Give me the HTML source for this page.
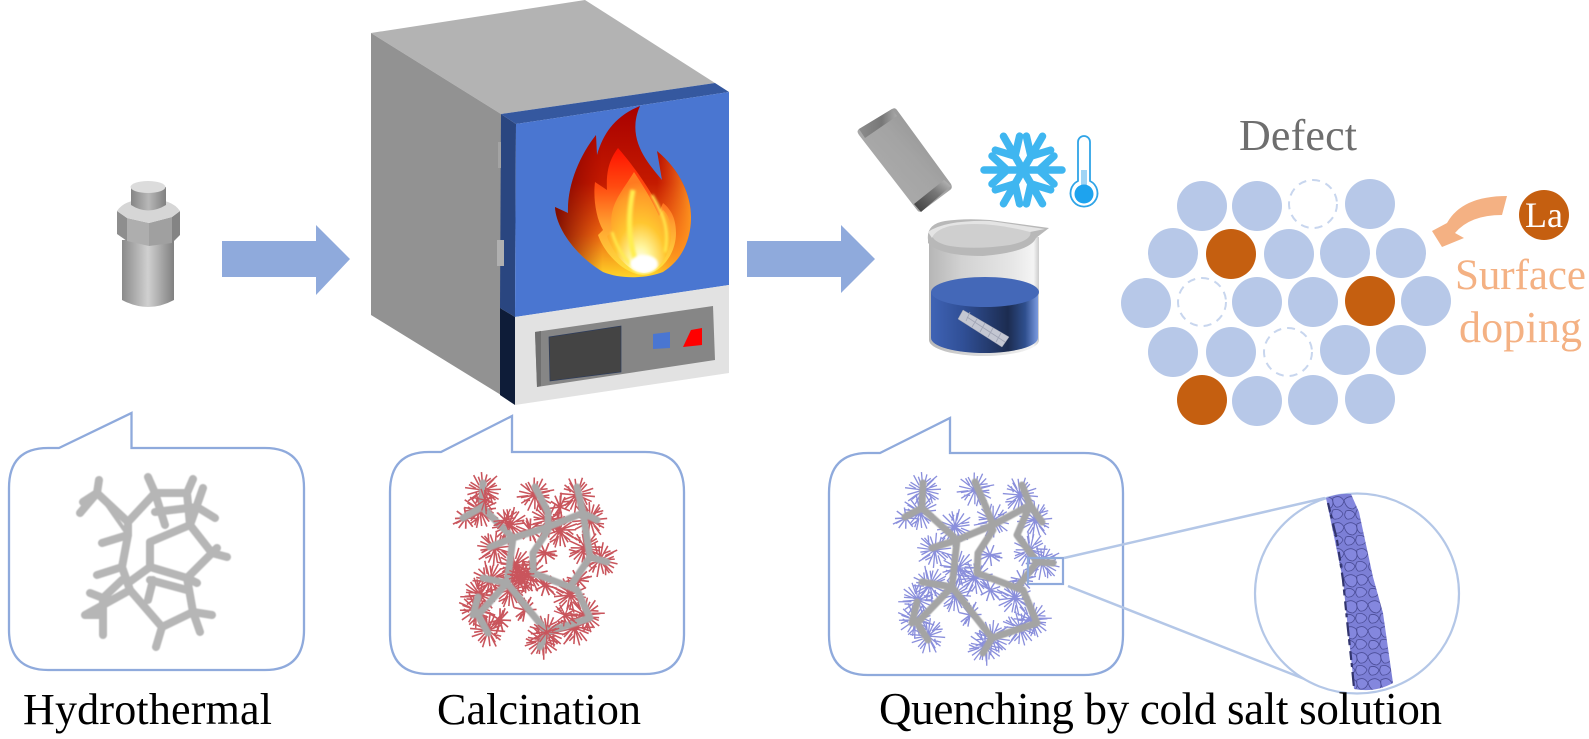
<!DOCTYPE html>
<html><head><meta charset="utf-8"><title>Process diagram</title>
<style>html,body{margin:0;padding:0;background:#fff}svg{display:block}text{font-family:"Liberation Serif",serif}</style></head>
<body>
<svg xmlns="http://www.w3.org/2000/svg" width="1589" height="739" viewBox="0 0 1589 739">
<defs>
<filter id="b" x="-10%" y="-10%" width="120%" height="120%"><feGaussianBlur stdDeviation=".6"/></filter>
<filter id="b2" x="-10%" y="-10%" width="120%" height="120%"><feGaussianBlur stdDeviation=".35"/></filter>
<filter id="b3" x="-20%" y="-20%" width="140%" height="140%"><feGaussianBlur stdDeviation="1.2"/></filter>
<linearGradient id="cyl" x1="0" x2="1" y1="0" y2="0"><stop offset="0" stop-color="#8a8a8a"/><stop offset=".5" stop-color="#d0d0d0"/><stop offset="1" stop-color="#808080"/></linearGradient>
<linearGradient id="neck" x1="0" x2="1" y1="0" y2="0"><stop offset="0" stop-color="#858585"/><stop offset=".5" stop-color="#b8b8b8"/><stop offset="1" stop-color="#808080"/></linearGradient>
<linearGradient id="fl1" x1="0" x2="0" y1="0" y2="1"><stop offset="0" stop-color="#a80000"/><stop offset=".45" stop-color="#c41a00"/><stop offset=".75" stop-color="#ee6a10"/><stop offset="1" stop-color="#ffd428"/></linearGradient>
<linearGradient id="fl0" x1="0" x2="1" y1="0" y2="0"><stop offset="0" stop-color="#6a0000" stop-opacity=".85"/><stop offset=".35" stop-color="#8b0000" stop-opacity="0"/><stop offset=".75" stop-color="#ff7020" stop-opacity="0"/><stop offset="1" stop-color="#ff9a20" stop-opacity=".9"/></linearGradient>
<linearGradient id="fl2" x1="0" x2="0" y1="0" y2="1"><stop offset="0" stop-color="#ff1000"/><stop offset=".3" stop-color="#ff4a10"/><stop offset=".6" stop-color="#ffa030"/><stop offset="1" stop-color="#ffe840"/></linearGradient>
<radialGradient id="fl3" cx=".52" cy=".9" r=".8"><stop offset="0" stop-color="#fff"/><stop offset=".2" stop-color="#fff6a0"/><stop offset=".5" stop-color="#ffc630"/><stop offset=".85" stop-color="#ff9a28"/><stop offset="1" stop-color="#ff7a20"/></radialGradient>
<linearGradient id="blk" x1="0" x2="1" y1="1" y2="0"><stop offset="0" stop-color="#b0b0b0"/><stop offset=".55" stop-color="#a4a4a4"/><stop offset="1" stop-color="#8a8a8a"/></linearGradient>
<linearGradient id="blkt" x1="0" x2="1" y1="0" y2="0"><stop offset="0" stop-color="#8c8c8c"/><stop offset=".6" stop-color="#777"/><stop offset="1" stop-color="#aaa"/></linearGradient>
<linearGradient id="blke" x1="0" x2="1" y1="1" y2="0"><stop offset="0" stop-color="#3c3c3c"/><stop offset=".6" stop-color="#777"/><stop offset="1" stop-color="#c0c0c0"/></linearGradient>
<linearGradient id="glass" x1="0" x2="1" y1="0" y2="0"><stop offset="0" stop-color="#b6b6b6"/><stop offset=".3" stop-color="#d2d2d2"/><stop offset=".75" stop-color="#e6e6e6"/><stop offset=".95" stop-color="#f4f4f4"/><stop offset="1" stop-color="#ccc"/></linearGradient>
<linearGradient id="liq" x1="0" x2="1" y1="0" y2="0"><stop offset="0" stop-color="#3f63b5"/><stop offset=".3" stop-color="#304f96"/><stop offset=".72" stop-color="#1c2c50"/><stop offset=".88" stop-color="#2f4f8e"/><stop offset="1" stop-color="#7a9ae0"/></linearGradient>
<pattern id="cells" width="24" height="26" patternUnits="userSpaceOnUse"><rect width="24" height="26" fill="#7b7fd6"/><path d="M0 6Q6 0 12 5Q15 12 9 15Q2 15 0 6ZM13 4Q20 0 24 7Q22 14 16 13Q12 10 13 4ZM2 17Q8 15 11 20Q9 26 3 25Q-1 22 2 17ZM13 16Q20 14 23 20Q20 26 14 25Q10 21 13 16Z" fill="#8487de" stroke="#4a4c96" stroke-width=".8"/></pattern>
<g id="sp" transform="scale(.78)"><path d="M0 0L18-6M0 0L-16-10M0 0L5-20M0 0L-6-17M0 0L20 5M0 0L-20 6M0 0L9 16M0 0L-10 18M0 0L14-14M0 0L-14 12M0 0L2 22M0 0L-2-23M0 0L23-1M0 0L-23-3M0 0L16 13M5-7L18-18M-7 5L-19 14M7 4L20 12M-5-6L-12-19M-4 7L-5 18M8-3L16-9M2-9L10-15M-9-2L-18-7M-2 9L-9 13M9 6L12 17"/></g>
<g id="sp2" transform="scale(.85)"><path d="M0 0L12-5M0 0L-11-7M0 0L4-14M0 0L-4-12M0 0L13 4M0 0L-13 4M0 0L6 11M0 0L-7 12M0 0L9-10M0 0L-9 8M4-4L12-12M-5 3L-12 9"/></g>
</defs>

<!-- Vessel -->
<path d="M122 240V300Q148 314 174 300V240Z" fill="url(#cyl)"/>
<path d="M117 211L127 218V241L117 234Z" fill="#8e8e8e"/>
<path d="M127 218L149 223V246L127 241Z" fill="#aeaeae"/>
<path d="M149 223L172 217V243L149 246Z" fill="#a0a0a0"/>
<path d="M172 217L180 211V235L172 243Z" fill="#848484"/>
<path d="M117 211Q125 199 148 199Q172 199 180 211L172 217L149 223L127 218Z" fill="#d6d6d6"/>
<path d="M131 187V205Q148 216 166 205V187Z" fill="url(#neck)"/>
<ellipse cx="148" cy="187" rx="17.500" ry="6" fill="#dcdcdc"/>

<!-- Arrows -->
<path d="M222 241H316V225L350 259L316 295V277H222Z" fill="#8faadc"/>
<path d="M747 241H841V225L875 259L841 293V277H747Z" fill="#8faadc"/>

<!-- Furnace -->
<path d="M371 33L585 0L715 83L501 114Z" fill="#b3b3b3"/>
<path d="M371 33L501 114V395L371 315Z" fill="#929292"/>
<path d="M501 114L715 83L729 92L516 124Z" fill="#35589f"/>
<path d="M501 114L516 124L515 317L500 308Z" fill="#2a4680"/>
<path d="M516 124L729 92V285L515 317Z" fill="#4a76d1"/>
<path d="M500 308L515 317V405L500 395Z" fill="#0e1c38"/>
<path d="M515 317L729 285V373L515 405Z" fill="#e2e2e2"/>
<path d="M535 332L713 306L715 360L537 387Z" fill="#868686"/>
<path d="M535 332L541 331V386L537 387Z" fill="#6f6f6f"/>
<path d="M549 337L621 326V372L550 381Z" fill="#444" stroke="#2d3c5c" stroke-width=".7"/>
<path d="M653 334L670 332V348L653 349Z" fill="#4a76d1"/>
<path d="M691 330L702 328V345L683 347Z" fill="#f00"/>
<rect x="497" y="240" width="7" height="26" fill="#b0b0b0"/>
<rect x="498" y="142" width="3" height="26" fill="#a3a3a3"/>
<!-- Flame -->
<path d="M640 106C618 115 604 130 597 155L596 135C580 155 567 185 568 213L555 207C556 228 575 255 603 272C620 279 645 279 663 272C685 258 691 235 691 217C691 195 680 170 657 151L662 180C650 165 625 140 640 106Z" fill="url(#fl1)"/>
<path d="M640 106C618 115 604 130 597 155L596 135C580 155 567 185 568 213L555 207C556 228 575 255 603 272C620 279 645 279 663 272C685 258 691 235 691 217C691 195 680 170 657 151L662 180C650 165 625 140 640 106Z" fill="url(#fl0)"/>
<path d="M618 148C609 160 606 172 607 190L595 182C593 198 596 218 603 230L598 235C605 255 625 274 643 275C660 274 676 255 676 233C676 220 672 210 663 203L660 210C652 192 633 165 618 148Z" fill="url(#fl2)"/>
<path d="M634 172C620 195 608 205 612 232L607 236C612 252 628 272 644 273C660 272 672 252 671 233C671 222 668 214 663 210L659 216C652 200 642 184 634 172Z" fill="url(#fl3)"/>
<g filter="url(#b3)" fill="none" stroke="#ffee50">
<path d="M633 190C628 215 628 240 636 262" stroke-width="5"/>
<path d="M612 232C618 252 630 266 640 272" stroke-width="2.500"/>
<path d="M652 195C662 212 670 228 665 252" stroke-width="2.500"/>
</g>
<ellipse cx="644" cy="264" rx="14" ry="9" fill="#fff" filter="url(#b3)"/>

<!-- Block -->
<path d="M892 109Q895 107 897 110L951 184Q953 188 950 190L922 211Q919 213 917 210L859 135Q856 131 859 129Z" fill="url(#blk)"/>
<path d="M859 129L892 109L897 116L865 138Z" fill="url(#blkt)"/>
<path d="M951 186L921 212L914 204L944 180Z" fill="url(#blke)"/>

<!-- Snowflake -->
<g stroke="#3fb6f0" stroke-width="7.500" stroke-linecap="round" fill="none" transform="translate(1023 170)">
<g id="arm"><path d="M-39 0H39M-16 0L-31-14M-16 0L-31 14M16 0L31-14M16 0L31 14"/></g>
<use href="#arm" transform="rotate(60)"/>
<use href="#arm" transform="rotate(120)"/>
</g>

<!-- Thermometer -->
<path d="M1078 142a6 6 0 0 1 12 0V181a13.500 13.500 0 1 1-12 0Z" fill="#fff" stroke="#2fa4e7" stroke-width="1.800"/>
<rect x="1081" y="170" width="6" height="18" fill="#9fd4f5"/>
<circle cx="1084" cy="194" r="9.500" fill="#1ea3ee"/>
<path d="M1081 188h6v6h-6z" fill="#1ea3ee"/>

<!-- Beaker -->
<path d="M929 237H1039V340A55 16 0 0 1 929 340Z" fill="url(#glass)"/>
<path d="M931 292H1038V338A53.500 15 0 0 1 931 338Z" fill="url(#liq)"/>
<ellipse cx="985" cy="292" rx="54" ry="15" fill="#4468b8"/>
<path d="M963 310L1009 337L1002 347L958 319Z" fill="#c4c7d2" stroke="#9a9eae" stroke-width=".5"/>
<path d="M967 317L1005 342M970 312L966 321M977 319L972 327M985 323L980 332M993 328L988 337M1001 333L996 342" stroke="#a0a4b4" stroke-width=".8" fill="none"/>
<path d="M928 240Q926 224 945 221Q965 218 990 220L1049 228L1036 238Q1030 252 983 256Q940 256 928 243Z" fill="#b8b8b8"/>
<path d="M932 236Q935 226 960 224Q995 221 1030 230Q1034 240 1010 245Q975 250 950 246Q935 243 932 236Z" fill="#cfcfcf"/>
<path d="M928 232Q945 220 990 221L1045 229L1030 232Q985 220 950 226Q935 230 932 238Z" fill="#e4e4e4"/>

<!-- Bubbles -->
<g fill="#fff" stroke="#8faadc" stroke-width="2.300">
<path d="M59 448L131.500 413V448H265Q304 448 304 488V630Q304 670 265 670H48Q9 670 9 630V488Q9 448 48 448Z"/>
<path d="M441 452L512 416V452H645Q684 452 684 492V634Q684 674 645 674H429Q390 674 390 634V492Q390 452 429 452Z"/>
<path d="M880 453L950 418V453H1084Q1123 453 1123 493V635Q1123 675 1084 675H868Q829 675 829 635V493Q829 453 868 453Z"/>
</g>

<!-- Skeleton 1 -->
<g fill="none" stroke="#b6b6b6" stroke-width="8" stroke-linecap="round" stroke-linejoin="round" filter="url(#b)">
<path d="M99 480L97 493L128 522L128 535L122 567L130 590L162 627L193 612L187 578L150 567L150 542L190 525L212 553L187 578"/>
<path d="M97 493L83 502M97 493L80 513M128 522L155 493L148 477M155 493L187 493L193 479M187 493L190 525L203 488M197 507L215 518M155 493L165 525M155 512L197 507M212 553L227 557M212 553L217 548M193 612L212 615M193 612L200 632M162 627L156 647M128 535L102 543M122 567L97 575M128 583L150 567M150 580L187 590M153 580L148 600M130 590L85 615L103 615L103 635M122 580L103 598L90 593M103 598L103 615M187 578L197 583"/>
<path d="M100 495L128 535" stroke-width="4"/>
</g>

<!-- Structure 2 -->
<g fill="none" stroke="#c9545c" stroke-width="2" filter="url(#b2)">
<use href="#sp" transform="translate(483 490)"/><use href="#sp" transform="translate(480 510) rotate(70)"/><use href="#sp2" transform="translate(466 518) rotate(200)"/>
<use href="#sp" transform="translate(510 525) rotate(140)"/><use href="#sp" transform="translate(535 495) rotate(30)"/><use href="#sp" transform="translate(548 520) rotate(210)"/>
<use href="#sp" transform="translate(577 495) rotate(100)"/><use href="#sp" transform="translate(590 520) rotate(270)"/><use href="#sp" transform="translate(600 560) rotate(15)"/>
<use href="#sp" transform="translate(585 548) rotate(120)"/><use href="#sp2" transform="translate(578 580) rotate(30)"/><use href="#sp" transform="translate(495 548) rotate(190)"/>
<use href="#sp" transform="translate(515 565) rotate(45)"/><use href="#sp" transform="translate(530 575) rotate(160)"/><use href="#sp2" transform="translate(545 585) rotate(90)"/>
<use href="#sp" transform="translate(490 580) rotate(300)"/><use href="#sp" transform="translate(510 590) rotate(80)"/><use href="#sp2" transform="translate(545 553) rotate(230)"/>
<use href="#sp" transform="translate(570 595) rotate(250)"/><use href="#sp" transform="translate(585 615) rotate(40)"/><use href="#sp" transform="translate(575 628) rotate(170)"/>
<use href="#sp" transform="translate(547 632) rotate(10)"/><use href="#sp" transform="translate(542 640) rotate(130)"/><use href="#sp" transform="translate(476 610) rotate(60)"/>
<use href="#sp" transform="translate(488 630) rotate(280)"/><use href="#sp" transform="translate(480 595) rotate(220)"/><use href="#sp2" transform="translate(525 610) rotate(340)"/>
<use href="#sp2" transform="translate(530 530) rotate(110)"/><use href="#sp2" transform="translate(560 507) rotate(320)"/><use href="#sp2" transform="translate(500 620) rotate(150)"/>
<use href="#sp" transform="translate(520 578) rotate(15)"/><use href="#sp" transform="translate(560 530) rotate(75)"/>
</g>
<g fill="none" stroke="#a8a8a8" stroke-width="7" stroke-linecap="round" stroke-linejoin="round" filter="url(#b)">
<path d="M483 483L482 507L513 538L507 583L547 632L590 618L577 590L570 587L533 573L533 553L548 530M463 518L482 507M513 538L548 527L583 513L597 520M535 487L548 512L548 527M577 487L583 513L590 557L607 562M590 557L570 587M483 578L507 583L478 615L488 633M473 615L478 597M490 547L513 538M547 632L540 647"/>
</g>
<g fill="none" stroke="#c9545c" stroke-width="1.600" filter="url(#b2)">
<use href="#sp2" transform="translate(520 575) rotate(40)"/><use href="#sp2" transform="translate(505 520) rotate(10)"/><use href="#sp2" transform="translate(565 615) rotate(80)"/><use href="#sp2" transform="translate(485 500) rotate(130)"/><use href="#sp2" transform="translate(547 632) rotate(200)"/>
</g>

<!-- Structure 3 -->
<g fill="none" stroke="#8a8fdc" stroke-width="1.700" filter="url(#b2)">
<use href="#sp" transform="translate(923 490)"/><use href="#sp" transform="translate(920 512) rotate(70)"/><use href="#sp2" transform="translate(906 518) rotate(200)"/>
<use href="#sp" transform="translate(955 527) rotate(140)"/><use href="#sp" transform="translate(975 490) rotate(30)"/><use href="#sp" transform="translate(993 520) rotate(210)"/>
<use href="#sp" transform="translate(1020 495) rotate(100)"/><use href="#sp" transform="translate(1035 520) rotate(270)"/><use href="#sp" transform="translate(1042 563) rotate(15)"/>
<use href="#sp" transform="translate(1030 550) rotate(120)"/><use href="#sp2" transform="translate(1022 580) rotate(30)"/><use href="#sp" transform="translate(935 550) rotate(190)"/>
<use href="#sp" transform="translate(958 568) rotate(45)"/><use href="#sp" transform="translate(975 578) rotate(160)"/><use href="#sp2" transform="translate(990 590) rotate(90)"/>
<use href="#sp" transform="translate(930 585) rotate(300)"/><use href="#sp" transform="translate(955 595) rotate(80)"/><use href="#sp2" transform="translate(990 555) rotate(230)"/>
<use href="#sp" transform="translate(1015 598) rotate(250)"/><use href="#sp" transform="translate(1032 620) rotate(40)"/><use href="#sp" transform="translate(1020 628) rotate(170)"/>
<use href="#sp" transform="translate(992 638) rotate(10)"/><use href="#sp" transform="translate(985 646) rotate(130)"/><use href="#sp" transform="translate(915 620) rotate(60)"/>
<use href="#sp" transform="translate(928 636) rotate(280)"/><use href="#sp" transform="translate(918 600) rotate(220)"/><use href="#sp2" transform="translate(970 615) rotate(340)"/>
</g>
<g fill="none" stroke="#a4a4a4" stroke-width="7" stroke-linecap="round" stroke-linejoin="round" filter="url(#b)">
<path d="M923 483L922 508L957 540L952 587L992 638L1037 623L1023 590L1017 588L977 573L978 553L993 530M905 517L922 508M957 540L993 525L1030 505L1042 522M975 482L985 505L993 525M1022 485L1030 505L1017 535L1037 562L1053 563M1037 562L1017 588M922 582L952 587L917 623L928 640M912 623L917 602M932 548L957 540M992 638L983 653"/>
</g>

<!-- Zoom box and circle -->
<rect x="1028" y="558" width="35" height="26" fill="none" stroke="#8faadc" stroke-width="2.200"/>
<path d="M1064 558L1325 498M1068 586L1307 680" fill="none" stroke="#b4c7e7" stroke-width="2.500"/>
<ellipse cx="1357" cy="593.500" rx="102" ry="100" fill="#fff" stroke="#b4c7e7" stroke-width="2.200"/>
<g filter="url(#b2)">
<path d="M1326 498Q1338 493 1351 494L1359 512L1373 577L1383 613L1393 683Q1375 693 1354 689L1352 667L1347 620L1343 580Z" fill="url(#cells)"/>
<path d="M1328 503L1337 540L1343 580L1347 620L1352 667L1354 688" fill="none" stroke="#33346e" stroke-width="2.200" stroke-dasharray="9 3 4 5 14 3 6 6"/>
</g>

<!-- Circles -->
<g fill="#b7c8e8">
<circle cx="1202" cy="206" r="25"/><circle cx="1257" cy="206" r="25"/><circle cx="1370" cy="204" r="25"/>
<circle cx="1173" cy="253" r="25"/><circle cx="1289" cy="254" r="25"/><circle cx="1345" cy="253" r="25"/><circle cx="1401" cy="253" r="25"/>
<circle cx="1146" cy="303" r="25"/><circle cx="1257" cy="302" r="25"/><circle cx="1313" cy="302" r="25"/><circle cx="1426" cy="301" r="25"/>
<circle cx="1173" cy="352" r="25"/><circle cx="1231" cy="352" r="25"/><circle cx="1345" cy="350" r="25"/><circle cx="1401" cy="350" r="25"/>
<circle cx="1257" cy="401" r="25"/><circle cx="1313" cy="400" r="25"/><circle cx="1370" cy="399" r="25"/>
</g>
<g fill="#c55f10"><circle cx="1231" cy="254" r="25"/><circle cx="1370" cy="301" r="25"/><circle cx="1202" cy="400" r="25"/><circle cx="1544" cy="215" r="25"/></g>
<g fill="none" stroke="#c8d6ee" stroke-width="2" stroke-dasharray="8 6">
<circle cx="1313" cy="204" r="24"/><circle cx="1202" cy="302" r="24"/><circle cx="1288" cy="352" r="24"/>
</g>
<path d="M1507 196Q1462 196 1447 223L1432 231L1442 247L1464 238L1455 233Q1470 215 1502 215Z" fill="#f4b183"/>

<!-- Text -->
<text x="1239" y="150" font-size="44" fill="#6e6e6e" textLength="118">Defect</text>
<text x="1544" y="227" font-size="36" fill="#fff" text-anchor="middle">La</text>
<text x="1455" y="289" font-size="43" fill="#f4b183" textLength="131">Surface</text>
<text x="1459" y="342" font-size="44" fill="#f4b183" textLength="123">doping</text>
<text x="23" y="724" font-size="44" fill="#000" textLength="249">Hydrothermal</text>
<text x="437" y="724" font-size="44" fill="#000" textLength="204">Calcination</text>
<text x="879" y="724" font-size="45" fill="#000" textLength="563">Quenching by cold salt solution</text>
</svg>
</body></html>
